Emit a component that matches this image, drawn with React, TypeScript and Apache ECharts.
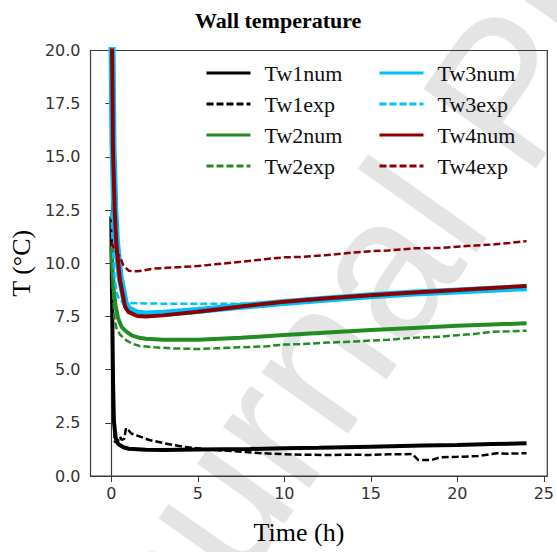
import React, { useEffect, useRef } from "react";
import * as echarts from "echarts";

const xTicks = [0, 5, 10, 15, 20, 25];

const tw1numT = [0, 0.05, 0.1, 0.15, 0.25, 0.4, 0.7, 1, 2, 3, 5, 8, 10, 12, 15, 18, 20, 22, 24];
const tw1numV = [12.2, 8.0, 4.5, 2.6, 1.8, 1.5, 1.35, 1.28, 1.23, 1.22, 1.24, 1.27, 1.3, 1.33, 1.38, 1.43, 1.46, 1.5, 1.54];

const tw1expT = [0, 0.05, 0.1, 0.15, 0.2, 0.35, 0.5, 0.6, 0.75, 0.85, 1.0, 1.15, 1.5, 2.2, 3, 4.1, 5, 6, 7.1, 8.5, 9.8, 11, 12.6, 14, 14.9, 16, 17.4, 17.75, 18.5, 19, 20, 21.2, 22.3, 23, 24];
const tw1expV = [12.0, 7.5, 4.7, 2.8, 1.6, 1.6, 1.85, 1.7, 1.75, 2.25, 2.15, 2.0, 1.9, 1.69, 1.55, 1.38, 1.3, 1.22, 1.17, 1.08, 1.03, 1.0, 0.99, 1.0, 0.99, 1.02, 1.03, 0.75, 0.75, 0.88, 0.9, 0.94, 1.07, 1.05, 1.07];

const tw2numT = [0, 0.1, 0.15, 0.25, 0.4, 0.6, 0.85, 1.2, 1.6, 2, 3, 5, 7.5, 10, 12.5, 15, 17.5, 20, 22, 24];
const tw2numV = [10.8, 9.3, 8.7, 8.0, 7.4, 7.0, 6.8, 6.6, 6.5, 6.45, 6.4, 6.4, 6.5, 6.63, 6.75, 6.86, 6.96, 7.06, 7.12, 7.18];

const tw2expT = [0, 0.08, 0.15, 0.2, 0.3, 0.5, 0.85, 1.2, 1.6, 2.5, 3.5, 5, 6, 7.5, 9, 10, 11, 12.5, 14, 15, 16, 17.5, 19, 20, 21, 22, 23, 24];
const tw2expV = [10.5, 9.0, 7.9, 7.3, 6.95, 6.65, 6.39, 6.22, 6.12, 6.05, 6.0, 5.97, 6.0, 6.05, 6.1, 6.18, 6.2, 6.27, 6.32, 6.37, 6.4, 6.5, 6.55, 6.62, 6.68, 6.78, 6.8, 6.83];

const tw3numT = [0, 0.1, 0.2, 0.3, 0.5, 0.8, 1, 1.5, 2, 3, 5, 7.5, 10, 12.5, 15, 17.5, 20, 22, 24];
const tw3numV = [24, 15.5, 12.6, 11.0, 9.4, 8.15, 7.85, 7.65, 7.62, 7.65, 7.78, 7.98, 8.15, 8.32, 8.47, 8.6, 8.7, 8.78, 8.85];

const tw3expT = [0, 0.1, 0.2, 0.35, 0.5, 0.8, 1.5, 3, 5, 7, 8, 10, 12.5, 15, 17.5, 20, 22, 24];
const tw3expV = [12.4, 10.5, 9.2, 8.5, 8.25, 8.15, 8.12, 8.1, 8.1, 8.1, 8.1, 8.15, 8.3, 8.45, 8.58, 8.68, 8.76, 8.82];

const tw4numT = [0, 0.1, 0.2, 0.3, 0.5, 0.8, 1, 1.5, 2, 3, 5, 7.5, 10, 12.5, 15, 17.5, 20, 22, 24];
const tw4numV = [24, 15.3, 12.4, 10.8, 9.2, 7.95, 7.7, 7.52, 7.5, 7.55, 7.72, 7.97, 8.19, 8.36, 8.5, 8.63, 8.74, 8.84, 8.93];

const tw4expT = [0, 0.15, 0.3, 0.5, 0.7, 1, 1.5, 2.5, 4, 5, 6, 7.5, 9, 10, 11, 12.5, 14, 15, 16, 17.5, 19, 20, 21, 22, 23, 24];
const tw4expV = [11.0, 10.7, 10.5, 10.3, 9.9, 9.65, 9.62, 9.75, 9.82, 9.87, 9.95, 10.07, 10.2, 10.28, 10.3, 10.39, 10.5, 10.57, 10.6, 10.7, 10.72, 10.78, 10.83, 10.88, 10.95, 11.04];

const pairs = (t: number[], v: number[]) => t.map((x, i) => [x, v[i]]);

const BLACK = "#000000";
const GREEN = "#228B22";
const CYAN = "#00BFFF";
const RED = "#8B0000";
const DASH = [7, 3];

export default function App() {
  const ref = useRef<HTMLDivElement>(null);
  useEffect(() => {
    if (!ref.current) return;
    const chart = echarts.init(ref.current, null, { renderer: "svg" });
    const mk = (name: string, t: number[], v: number[], color: string, width: number, dashed: boolean) => ({
      name,
      type: "line",
      data: pairs(t, v),
      symbol: "none",
      smooth: false,
      clip: true,
      lineStyle: { color, width, type: dashed ? DASH : "solid" },
      itemStyle: { color },
    });
    const legendCommon = {
      orient: "vertical",
      top: 62,
      padding: 0,
      itemWidth: 44,
      itemHeight: 14,
      itemGap: 9,
      lineStyle: { width: 3 },
      itemStyle: { opacity: 0, borderWidth: 0 },
      textStyle: {
        fontFamily: "Liberation Serif",
        fontSize: 22,
        lineHeight: 20,
        color: "#111",
        padding: [0, 0, 0, 9],
      },
    };
    chart.setOption({
      animation: false,
      backgroundColor: "#ffffff",
      title: {
        text: "Wall temperature",
        left: 195,
        top: 9,
        padding: 0,
        textStyle: { fontFamily: "Liberation Serif", fontWeight: "bold", fontSize: 22, color: "#000" },
      },
      graphic: [
        {
          type: "text",
          x: 140,
          y: 780,
          rotation: (54.7 * Math.PI) / 180,
          z: -10,
          silent: true,
          style: {
            text: "Journal Pre-proof",
            fontFamily: "Liberation Sans",
            fontSize: 200,
            fill: "#e4e4e4",
            textVerticalAlign: "bottom",
          },
        },
      ],
      legend: [
        { ...legendCommon, left: 205, data: ["Tw1num", "Tw1exp", "Tw2num", "Tw2exp"] },
        { ...legendCommon, left: 378, data: ["Tw3num", "Tw3exp", "Tw4num", "Tw4exp"] },
      ],
      grid: {
        left: 87,
        right: 6,
        top: 50.5,
        bottom: 76,
        show: true,
        borderColor: "#3a3a3a",
        borderWidth: 1.2,
        backgroundColor: "transparent",
      },
      xAxis: {
        type: "value",
        min: -1.2,
        max: 25.2,
        splitLine: { show: false },
        axisLine: { show: true, lineStyle: { color: "#3a3a3a", width: 1.2 } },
        axisTick: { show: true, inside: false, length: 6, lineStyle: { color: "#3a3a3a" }, customValues: xTicks },
        axisLabel: {
          customValues: xTicks,
          fontFamily: "DejaVu Sans",
          fontSize: 16,
          color: "#333",
          margin: 9,
        },
        name: "Time (h)",
        nameLocation: "middle",
        nameGap: 43,
        nameTextStyle: {
          fontFamily: "Liberation Serif",
          fontSize: 26,
          color: "#000",
          padding: [0, 40, 0, 0],
        },
      },
      yAxis: {
        type: "value",
        min: 0,
        max: 20,
        interval: 2.5,
        splitLine: { show: false },
        axisLine: { show: true, lineStyle: { color: "#3a3a3a", width: 1.2 } },
        axisTick: { show: true, inside: false, length: 6, lineStyle: { color: "#3a3a3a" } },
        axisLabel: {
          fontFamily: "DejaVu Sans",
          fontSize: 16,
          color: "#333",
          margin: 10,
          formatter: (v: number) => v.toFixed(1),
        },
        name: "T (°C)",
        nameLocation: "middle",
        nameGap: 49,
        nameRotate: 90,
        nameTextStyle: { fontFamily: "Liberation Serif", fontSize: 26, color: "#000" },
      },
      series: [
        mk("Tw1num", tw1numT, tw1numV, BLACK, 4, false),
        mk("Tw1exp", tw1expT, tw1expV, BLACK, 2.5, true),
        mk("Tw2num", tw2numT, tw2numV, GREEN, 4, false),
        mk("Tw2exp", tw2expT, tw2expV, GREEN, 2.5, true),
        mk("Tw3num", tw3numT, tw3numV, CYAN, 7, false),
        mk("Tw3exp", tw3expT, tw3expV, CYAN, 2.5, true),
        mk("Tw4num", tw4numT, tw4numV, RED, 4, false),
        mk("Tw4exp", tw4expT, tw4expV, RED, 2.5, true),
      ],
    });
    return () => chart.dispose();
  }, []);
  return <div ref={ref} style={{ width: 557, height: 552, position: "absolute", left: 0, top: 0 }} />;
}
